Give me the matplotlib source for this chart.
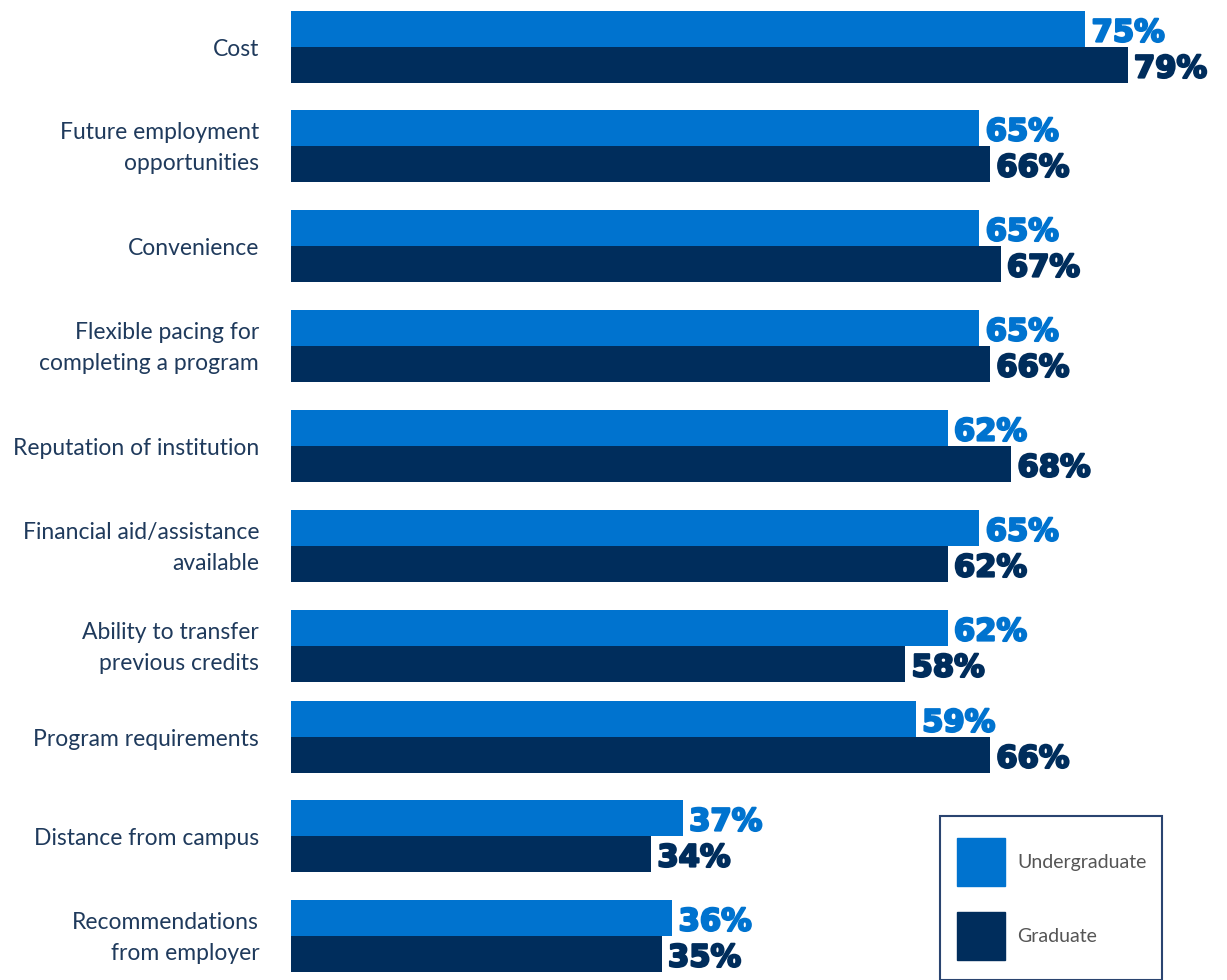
import matplotlib.pyplot as plt
from matplotlib import patches
import matplotlib.patheffects as pe

# factors rated important, share of respondents (%)
categories = ["Cost", "Future employment\nopportunities", "Convenience",
              "Flexible pacing for\ncompleting a program", "Reputation of institution",
              "Financial aid/assistance\navailable", "Ability to transfer\nprevious credits",
              "Program requirements", "Distance from campus",
              "Recommendations\nfrom employer"]
undergrad = [75, 65, 65, 65, 62, 65, 62, 59, 37, 36]
graduate = [79, 66, 67, 66, 68, 62, 58, 66, 34, 35]

# group centres, in pixels from the top
centers = [47, 146, 246, 346, 446, 546, 646, 737, 836, 936]

UG_COLOR = "#0073CF"
GR_COLOR = "#002D5C"
LABEL_COLOR = "#1F3A5C"
BAR_H = 36

W, H = 1227, 980
fig = plt.figure(figsize=(W / 100, H / 100), dpi=100)
ax = fig.add_axes([291 / W, 0, 1 - 291 / W, 1])
ax.set_xlim(0, (W - 291) / 10.59)
ax.set_ylim(H, 0)
ax.axis("off")


def value_label(x, y, color):
    # heavy percentage text just past the bar end
    ax.text(x + 0.6, y, f"{x}%", color=color, fontsize=22, fontweight="bold",
            va="center", ha="left",
            path_effects=[pe.withStroke(linewidth=1.6, foreground=color)])


for i, (u, g) in enumerate(zip(undergrad, graduate)):
    c = centers[i]
    ax.barh(c - BAR_H / 2, u, height=BAR_H, color=UG_COLOR)
    ax.barh(c + BAR_H / 2, g, height=BAR_H, color=GR_COLOR)
    value_label(u, c - BAR_H / 2 + 4, UG_COLOR)
    value_label(g, c + BAR_H / 2 + 4, GR_COLOR)
    ax.text(-3.0, c + 2, categories[i], color=LABEL_COLOR, fontsize=16.5,
            family=["Lato", "DejaVu Sans"], ha="right", va="center",
            linespacing=1.6, clip_on=False)

# legend box, running off the bottom edge
fig.patches.append(patches.Rectangle((940 / W, 0), 222 / W, (H - 816) / H,
                                     transform=fig.transFigure, fill=False,
                                     edgecolor="#2A4470", linewidth=1.5))
for (y, col, name) in [(862, UG_COLOR, "Undergraduate"), (936, GR_COLOR, "Graduate")]:
    fig.patches.append(patches.Rectangle((957 / W, 1 - (y + 24) / H), 48 / W, 48 / H,
                                         transform=fig.transFigure, color=col))
    fig.text(1017 / W, 1 - y / H, name, color="#555555", fontsize=14,
             family=["Lato", "DejaVu Sans"], va="center", ha="left")

fig.savefig("out.png", dpi=100)
